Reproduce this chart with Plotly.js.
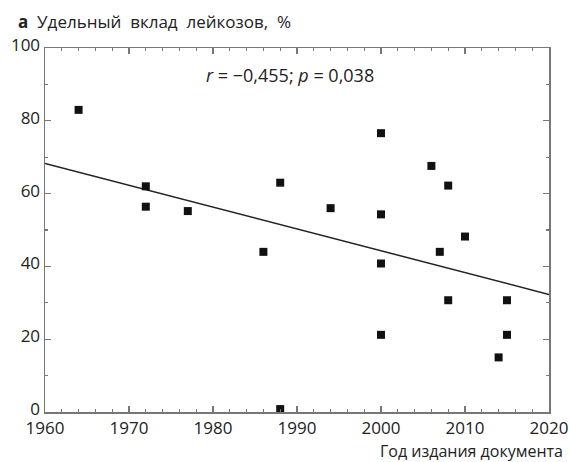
<!DOCTYPE html>
<html>
<head>
<meta charset="utf-8">
<script src="https://cdn.plot.ly/plotly-3.0.1.min.js"></script>
<style>html,body{margin:0;padding:0;background:#fff;}</style>
</head>
<body>
<div id="chart" style="width:569px;height:462px;"></div>
<script>
// Data
const years = [1964, 1972, 1972, 1977, 1986, 1988, 1988, 1994, 2000, 2000, 2000, 2000, 2006, 2007, 2008, 2008, 2010, 2014, 2015, 2015];
const share = [83, 62, 56.4, 55.2, 44, 0.8, 63, 56, 76.6, 54.3, 40.8, 21.2, 67.6, 44, 62.2, 30.7, 48.2, 15, 30.7, 21.2];
const trendX = [1960, 2020];
const trendY = [68.3, 32.3];
const xTicks = [1960, 1970, 1980, 1990, 2000, 2010, 2020];
const yTicks = [0, 20, 40, 60, 80, 100];
const titleText = '<b>а</b>  Удельный  вклад  лейкозов,  %';
const xTitle = 'Год издания документа';
const statText = '<i>r</i> = −0,455; <i>p</i> = 0,038';

const fam = 'Open Sans, Noto Sans, sans-serif';
const font = {family: fam, size: 17, color: '#222'};

const traces = [
  {x: trendX, y: trendY, mode: 'lines', type: 'scatter',
   line: {color: '#222', width: 1.5}, hoverinfo: 'skip'},
  {x: years, y: share, mode: 'markers', type: 'scatter',
   marker: {symbol: 'square', size: 8, color: '#111'}}
];

const axisCommon = {
  showline: true, linecolor: '#777', linewidth: 1.5, mirror: 'allticks',
  ticks: 'inside', ticklen: 6, tickcolor: '#777', tickwidth: 1.2,
  showgrid: false, zeroline: false, tickfont: font
};

const layout = {
  width: 569, height: 462,
  margin: {l: 45, r: 20, t: 48, b: 50},
  paper_bgcolor: '#fff', plot_bgcolor: '#fff',
  showlegend: false,
  font: font,
  title: {text: titleText, x: 18/569, xanchor: 'left', xref: 'container',
          y: 1 - 22/462, yanchor: 'middle', yref: 'container',
          font: {family: fam, size: 17, color: '#222'}},
  xaxis: Object.assign({}, axisCommon, {
    range: [1960, 2020], tickvals: xTicks, ticktext: xTicks.map(String),
    ticklabelstandoff: 0,
    minor: {dtick: 2, tick0: 1960, ticks: 'inside', ticklen: 3, tickcolor: '#777'}
  }),
  yaxis: Object.assign({}, axisCommon, {
    range: [0, 100], tickvals: yTicks, ticktext: yTicks.map(String),
    ticklabelshift: -3,
    minor: {dtick: 10, tick0: 0, ticks: 'inside', ticklen: 3, tickcolor: '#777'}
  }),
  annotations: [
    {text: statText, xref: 'paper', yref: 'paper', x: (290-45)/504, y: (412-75)/364,
     xanchor: 'center', yanchor: 'middle', showarrow: false,
     font: {family: fam, size: 18, color: '#222'}},
    {text: xTitle, xref: 'paper', yref: 'paper', x: (565-45)/504, y: -(451-412)/364,
     xanchor: 'right', yanchor: 'middle', showarrow: false,
     font: {family: fam, size: 16, color: '#222'}}
  ]
};

Plotly.newPlot('chart', traces, layout, {displayModeBar: false, staticPlot: true});
</script>
</body>
</html>
